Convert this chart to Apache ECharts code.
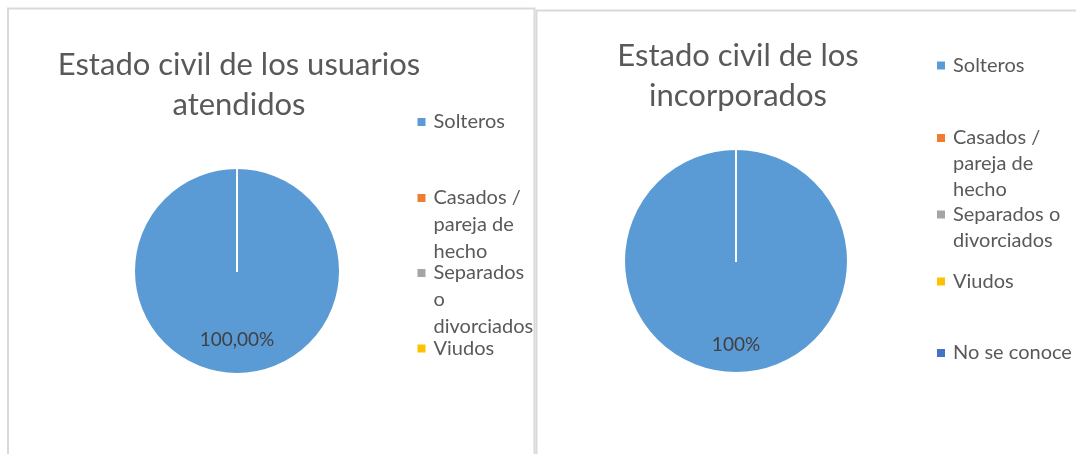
<!DOCTYPE html>
<html><head><meta charset="utf-8">
<script src="https://cdn.jsdelivr.net/npm/echarts@6/dist/echarts.min.js"></script>
<style>html,body{margin:0;padding:0;background:#fff}#c{width:1076px;height:454px}</style>
</head><body><div id="c"></div>
<script>
// ---- data ----
const titleLinesLeft = ['Estado civil de los usuarios', 'atendidos'];
const titleLinesRight = ['Estado civil de los', 'incorporados'];
const categoriesLeft = ['Solteros', 'Casados / pareja de hecho', 'Separados o divorciados', 'Viudos'];
const valuesLeft = [100, 0, 0, 0];
const categoriesRight = ['Solteros', 'Casados / pareja de hecho', 'Separados o divorciados', 'Viudos', 'No se conoce'];
const valuesRight = [100, 0, 0, 0, 0];
const legendLinesLeft = [['Solteros'], ['Casados /', 'pareja de', 'hecho'], ['Separados', 'o', 'divorciados'], ['Viudos']];
const legendLinesRight = [['Solteros'], ['Casados /', 'pareja de', 'hecho'], ['Separados o', 'divorciados'], ['Viudos'], ['No se conoce']];

// ---- styles / layout ----
const colors = ['#5B9BD5', '#ED7D31', '#A5A5A5', '#FFC000', '#4472C4'];
const FONT = 'Lato';
const panels = [
  {cats: categoriesLeft, vals: valuesLeft, titleLines: titleLinesLeft, legendLines: legendLinesLeft,
   cx: 237, cy: 271, r: 103, titleX: 239, titleTop: 45, legendLeft: 417.5,
   markerYs: [122, 198, 273, 348.5], lh: 27, labelDy: 14, decimals: 2},
  {cats: categoriesRight, vals: valuesRight, titleLines: titleLinesRight, legendLines: legendLinesRight,
   cx: 736, cy: 261, r: 112, titleX: 738, titleTop: 36, legendLeft: 937,
   markerYs: [65.5, 138, 214.5, 281.5, 353], lh: 26, labelDy: 25, decimals: 0}
];

const titles = [], legends = [], series = [];
panels.forEach((p) => {
  titles.push({
    text: p.titleLines.join('\n'), left: p.titleX, top: p.titleTop, textAlign: 'center', padding: 0,
    textStyle: {fontFamily: FONT, fontSize: 31, fontWeight: 'normal', color: '#595959', lineHeight: 40}
  });
  p.cats.forEach((name, i) => {
    const lines = p.legendLines[i];
    const n = lines.length;
    // blank lines above keep the marker level with the first text line
    const txt = new Array(n - 1).fill(' ').concat(lines).join('\n');
    legends.push({
      orient: 'vertical', left: p.legendLeft, top: p.markerYs[i] - (2 * n - 1) * p.lh / 2,
      padding: 0, itemWidth: 8, itemHeight: 8, icon: 'rect', selectedMode: false,
      data: [name], itemStyle: {borderWidth: 0},
      formatter: () => txt,
      textStyle: {fontFamily: FONT, fontSize: 20, color: '#595959', lineHeight: p.lh, padding: [0, 0, 0, 3]}
    });
  });
  series.push({
    type: 'pie', center: [p.cx, p.cy], radius: p.r, startAngle: 90, clockwise: true,
    avoidLabelOverlap: false, animation: false,
    itemStyle: {borderColor: '#fff', borderWidth: 2},
    label: {
      position: 'inside', fontFamily: FONT, fontSize: 19, color: '#404040',
      formatter: (prm) => prm.percent.toFixed(p.decimals).replace('.', ',') + '%'
    },
    labelLayout: {dy: p.labelDy},
    labelLine: {show: false},
    emphasis: {disabled: true},
    data: p.cats.map((name, i) => ({
      name, value: p.vals[i], itemStyle: {color: colors[i]},
      label: {show: p.vals[i] > 0}
    }))
  });
});

const chart = echarts.init(document.getElementById('c'), null, {renderer: 'canvas'});
chart.setOption({
  backgroundColor: '#fff',
  animation: false,
  title: titles,
  legend: legends,
  series: series,
  graphic: [
    {type: 'rect', silent: true, z: -10, shape: {x: 8, y: 8.5, width: 526.5, height: 480},
     style: {fill: 'none', stroke: '#D9D9D9', lineWidth: 2}},
    {type: 'rect', silent: true, z: -10, shape: {x: 536.5, y: 10.5, width: 600, height: 480},
     style: {fill: 'none', stroke: '#D9D9D9', lineWidth: 2}}
  ]
});
</script></body></html>
